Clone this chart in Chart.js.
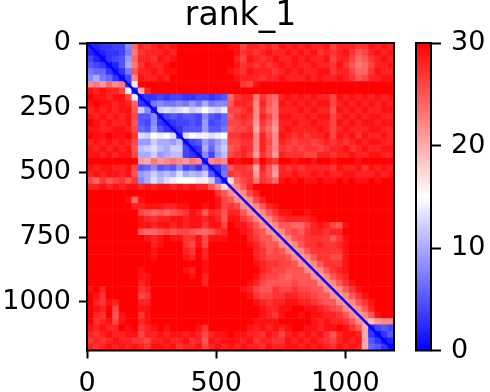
<!DOCTYPE html>
<html><head><meta charset="utf-8">
<script src="https://cdn.jsdelivr.net/npm/chart.js@4"></script>
<style>html,body{margin:0;padding:0;background:#fff}#w{position:relative;width:490px;height:392px;overflow:hidden}canvas{position:absolute;top:0}</style>
</head><body><div id="w"><canvas id="m" width="490" height="392" style="left:0"></canvas><canvas id="c" width="90" height="392" style="left:400px"></canvas></div>
<script>
const titleText = "rank_1";
const residueMax = 1188;
const xTickValues = [0,500,1000];
const yTickValues = [0,250,500,750,1000];
const barTickValues = [0,10,20,30];
const barRange = [0,30];
const diagonalEnds = [0,1188];
const paeRows = [
[2,2,3,3,4,4,8,24,28,27,28,29,28,29,30,30,30,30,30,30,30,30,29,29,26,28,28,27,28,27,29,28,29,28,29,28,28,29,26,28,28,28,27,27,29,28,29,28],
[2,1,2,3,3,4,7,23,27,28,28,28,29,28,30,30,30,30,30,30,30,30,30,29,27,28,27,28,29,28,28,29,28,29,28,29,27,28,27,28,29,27,25,26,28,29,28,29],
[4,2,1,3,4,5,9,24,28,28,27,29,28,29,30,30,30,30,30,30,30,30,30,28,26,29,28,27,28,29,28,28,29,28,29,28,28,29,26,28,28,26,24,25,27,28,29,28],
[5,4,3,1,2,5,10,23,27,29,28,28,29,30,30,30,30,30,30,30,30,30,30,29,27,28,27,28,27,28,29,28,29,28,28,29,28,28,27,29,27,25,23,24,26,28,28,29],
[7,6,6,3,1,3,7,25,28,28,29,28,29,29,30,30,30,30,30,30,30,30,29,28,27,29,28,28,28,27,28,29,28,29,28,28,29,29,27,28,28,26,24,24,27,29,28,28],
[8,10,7,6,3,1,4,22,29,28,28,29,28,30,30,30,30,30,30,30,30,30,30,29,28,28,28,27,28,28,29,28,28,28,29,28,29,28,28,29,28,27,25,26,28,28,29,29],
[22,23,21,24,22,23,3,14,30,30,30,30,30,30,30,30,30,30,30,30,30,30,30,30,27,26,29,30,30,30,30,30,30,30,30,30,30,30,30,30,30,30,30,30,30,30,30,30],
[29,28,29,28,28,26,14,2,20,28,30,30,30,30,30,30,30,30,30,30,30,30,30,30,30,30,30,30,30,30,30,30,30,30,30,30,30,30,30,30,30,30,30,30,30,30,30,30],
[30,29,29,28,29,29,26,14,2,3,3,4,3,4,4,3,3,4,4,3,4,5,24,27,28,28,23,27,25,24,28,29,28,29,28,29,28,28,26,29,28,29,28,29,28,29,28,29],
[29,30,29,29,28,29,28,24,3,2,7,8,7,7,8,7,9,7,10,7,8,8,25,28,28,27,22,28,25,23,29,28,29,28,29,28,29,29,26,28,29,28,29,28,29,28,29,28],
[28,29,28,29,28,29,29,25,12,8,2,12,13,12,13,14,12,13,15,13,12,14,26,26,27,28,22,27,24,23,28,28,28,29,28,29,28,28,25,29,28,29,28,29,28,28,29,29],
[29,28,29,28,29,28,29,26,5,5,8,2,4,5,4,5,5,4,8,5,4,6,25,27,28,27,22,28,26,23,29,29,28,28,29,28,29,29,26,28,29,28,29,28,29,29,28,28],
[30,29,28,29,28,28,29,25,5,4,8,3,2,3,4,4,5,4,9,4,5,6,26,26,27,26,21,27,25,22,28,28,29,28,28,29,28,28,26,29,28,29,28,29,29,28,29,29],
[29,29,28,28,29,29,28,26,6,5,9,5,3,2,3,5,5,5,9,5,5,7,25,26,26,27,20,26,24,21,28,29,28,28,28,28,29,28,26,28,29,28,28,28,29,29,28,28],
[30,29,29,30,29,29,30,27,13,12,15,14,15,13,2,13,15,14,16,13,14,15,27,27,28,28,22,28,25,22,29,28,27,28,27,28,28,29,26,29,28,29,27,29,28,28,29,28],
[28,29,28,29,28,29,28,26,9,9,12,10,10,9,11,2,4,5,9,7,9,11,26,26,27,27,22,28,26,22,28,27,26,27,27,26,27,28,27,28,27,28,29,28,29,29,28,28],
[29,28,29,28,29,28,29,25,11,12,13,11,10,12,12,4,2,3,10,6,10,12,25,26,28,27,22,28,25,22,27,26,27,26,27,27,26,27,28,28,29,27,28,29,28,28,29,29],
[29,29,28,29,28,29,29,26,10,10,12,9,10,11,11,4,3,2,8,4,9,11,26,27,28,26,21,27,25,21,28,27,27,27,26,26,28,28,27,28,28,29,28,28,29,29,28,28],
[30,30,30,30,30,30,30,30,21,20,23,21,22,23,22,21,23,22,2,22,23,22,30,29,30,30,26,30,28,27,30,30,29,30,30,29,30,30,29,30,30,30,29,30,30,30,30,30],
[29,28,29,29,28,28,29,26,5,6,8,5,6,5,8,4,5,3,7,2,3,6,25,27,27,26,20,28,25,22,28,27,28,27,28,28,28,28,27,29,28,28,29,27,29,28,29,28],
[28,29,28,29,29,28,29,25,9,10,12,10,11,10,13,10,11,10,12,5,2,7,27,26,27,27,21,27,25,21,28,28,29,28,28,29,28,29,28,28,29,29,28,28,28,29,28,29],
[26,24,27,25,26,27,25,27,8,10,13,11,13,14,15,15,15,14,16,12,6,2,17,24,26,27,23,27,26,24,29,30,29,30,29,29,30,29,29,30,29,30,29,29,30,29,30,30],
[28,28,29,28,29,28,29,29,28,29,28,29,29,28,29,28,29,28,28,25,22,17,21,22,25,28,30,30,30,30,30,30,30,30,30,30,30,30,30,30,30,30,30,30,30,30,30,30],
[30,30,30,30,30,30,30,30,30,30,30,30,30,30,30,30,30,30,30,30,27,25,22,21,22,26,28,30,30,30,30,30,30,30,30,30,30,30,30,30,30,30,30,30,30,30,30,30],
[30,30,30,30,30,30,29,24,29,30,30,30,30,30,30,30,30,30,30,30,29,26,25,22,21,22,26,28,30,30,30,30,30,30,30,30,30,30,30,30,30,30,30,30,30,30,30,30],
[30,30,30,30,30,30,30,28,28,29,29,29,28,28,29,29,30,30,29,30,29,26,27,26,22,21,22,25,28,29,30,30,30,30,30,30,30,30,30,30,30,30,30,30,30,30,30,30],
[30,30,30,30,30,30,30,30,26,25,24,25,24,25,26,27,29,28,25,28,27,25,28,28,25,22,21,22,25,27,29,29,30,30,29,30,30,30,30,30,30,30,30,30,30,30,30,30],
[30,30,30,30,30,30,30,30,29,28,27,28,28,29,29,28,29,29,28,29,28,25,29,29,27,25,22,21,22,25,27,28,28,28,28,29,30,30,30,30,30,30,30,30,30,30,30,30],
[30,30,30,30,30,30,30,30,29,29,28,29,29,28,29,28,29,29,27,29,29,26,30,29,29,27,25,22,21,22,25,25,24,24,26,28,29,28,26,25,29,30,30,30,30,30,30,30],
[30,30,30,30,30,30,30,30,25,24,24,25,26,25,26,26,25,24,24,25,27,28,30,30,29,28,26,25,22,21,22,25,26,25,27,28,28,27,28,28,30,30,30,30,30,30,30,30],
[30,30,30,30,30,30,30,30,30,29,28,29,30,29,29,27,27,29,26,29,29,29,30,30,30,28,27,25,25,22,21,22,25,26,27,27,27,27,25,27,29,30,30,30,30,30,30,30],
[30,30,30,30,30,30,30,30,30,30,28,29,30,30,30,27,26,29,26,30,30,30,30,30,30,29,28,26,25,25,22,21,22,25,27,27,28,27,27,28,29,30,30,30,30,30,30,30],
[30,30,30,30,30,30,30,30,30,30,29,30,30,30,30,28,27,30,28,30,30,30,30,30,30,30,28,27,25,26,25,22,21,22,25,27,27,27,27,27,29,30,30,30,30,30,30,30],
[30,30,30,30,30,30,30,30,30,30,29,30,30,30,30,29,28,30,28,30,30,30,30,30,30,30,28,27,26,26,26,25,22,21,22,25,27,27,26,26,29,30,30,30,30,30,30,30],
[30,30,30,30,30,30,30,30,30,30,30,30,30,30,30,30,30,30,29,30,30,30,30,30,30,30,29,28,27,27,26,26,25,22,21,22,25,27,27,27,29,30,30,30,30,30,30,30],
[30,30,30,30,30,30,30,30,29,30,30,30,30,30,30,29,28,30,29,30,30,30,30,30,30,30,30,28,27,26,26,25,25,25,22,21,22,25,27,28,29,30,30,30,30,30,30,30],
[30,30,30,30,30,30,30,30,29,29,30,30,30,30,30,30,29,30,28,30,30,30,30,30,30,30,29,27,26,26,25,24,25,25,25,22,21,22,25,27,28,30,30,30,30,30,30,30],
[30,30,30,30,30,30,30,30,28,29,30,30,30,30,30,30,30,30,28,30,30,30,30,30,30,29,28,26,25,25,25,25,26,25,25,25,22,21,22,25,27,29,30,30,30,30,30,30],
[29,30,28,30,30,30,30,30,27,28,30,30,30,30,30,30,30,30,30,30,30,30,30,30,29,28,26,25,25,27,26,26,27,26,26,25,25,22,21,22,25,27,29,30,30,30,30,30],
[30,29,27,30,30,30,30,30,26,27,30,30,30,30,30,30,30,30,30,30,30,30,30,30,30,29,27,26,26,27,27,28,28,27,27,26,25,25,22,21,22,25,27,29,30,30,30,30],
[30,28,27,29,28,30,30,30,28,28,30,30,30,30,30,30,30,30,30,30,30,30,30,30,30,30,29,28,27,28,28,29,29,28,28,27,26,25,25,22,21,22,25,27,29,30,30,30],
[30,29,28,30,26,30,30,30,29,29,30,30,30,30,30,30,30,30,30,30,30,30,30,30,30,30,30,29,28,28,29,29,30,30,29,29,28,27,26,25,22,21,22,25,28,30,30,30],
[30,28,27,30,25,29,30,30,27,29,30,30,30,30,30,30,30,30,30,30,30,30,30,30,30,30,30,29,28,27,29,30,30,29,30,29,29,28,28,27,25,22,21,22,25,29,30,30],
[30,27,28,29,26,29,30,30,28,29,30,30,30,30,30,30,30,30,30,30,30,30,30,30,30,30,29,29,29,29,30,30,30,30,30,29,28,29,28,28,27,25,22,21,19,21,22,22],
[29,28,29,28,28,30,29,30,27,28,29,30,29,30,30,30,30,29,27,30,30,30,30,30,30,29,28,29,28,29,28,29,30,30,29,29,28,29,29,30,29,27,25,20,2,4,5,4],
[28,27,28,29,28,28,29,29,26,28,28,29,28,29,29,28,29,28,26,28,29,29,30,29,29,28,28,27,29,28,26,28,29,28,29,28,29,27,25,28,29,29,28,20,3,1,3,5],
[27,28,27,28,29,28,28,27,27,26,28,28,29,28,28,29,27,28,25,29,28,29,29,29,28,29,27,28,28,27,27,29,28,29,28,29,28,27,26,28,29,28,29,20,5,3,1,2],
[28,27,28,29,28,29,28,29,28,27,29,29,28,29,27,28,28,29,26,28,29,28,29,28,29,28,28,27,29,28,28,29,29,28,29,28,29,28,27,29,28,29,28,20,6,5,3,1]
];

function bwr(v){
  const t = Math.max(0,Math.min(1,v/30));
  const r = t<0.5 ? Math.round(510*t) : 255;
  const b = t<0.5 ? 255 : Math.round(510*(1-t));
  const g = t<0.5 ? r : b;
  return `rgb(${r},${g},${b})`;
}
const FONT = "'DejaVu Sans'";
const cell = residueMax/paeRows.length;
const pts = [], cols = [];
paeRows.forEach((row,i)=>row.forEach((v,j)=>{
  pts.push({x:(j+.5)*cell,y:(i+.5)*cell,v}); cols.push(bwr(v));
}));
const frame = {id:'frame',afterDraw(ch){
  const a=ch.chartArea,c=ch.ctx;c.save();c.strokeStyle='#000';c.lineWidth=2;
  c.strokeRect(a.left,a.top,a.right-a.left,a.bottom-a.top);c.restore();}};
const tickStyle = (vals)=>({
  afterBuildTicks(s){s.ticks=vals.map(v=>({value:v}));},
});
const plain = v=>String(v);
new Chart(document.getElementById('m'),{
  type:'scatter',
  data:{datasets:[
    {type:'line',data:diagonalEnds.map(d=>({x:d,y:d})),borderColor:'#0000ff',borderWidth:2.5,pointRadius:0,fill:false},
    {data:pts,pointStyle:'rect',pointRadius:4.9,pointBorderWidth:0,pointBackgroundColor:cols,pointBorderColor:'transparent'}
  ]},
  options:{
    responsive:false,animation:false,events:[],
    layout:{padding:{left:0,right:96,top:0,bottom:0}},
    plugins:{legend:{display:false},tooltip:{enabled:false},
      title:{display:true,text:titleText,color:'#000',fullSize:false,font:{family:FONT,size:33,weight:'normal',lineHeight:1.0},padding:{top:0,bottom:10}}},
    scales:{
      x:{type:'linear',min:0,max:residueMax,position:'bottom',...tickStyle(xTickValues),
        afterFit(s){s.height=41.5;},
        border:{display:false},
        grid:{drawOnChartArea:false,drawTicks:true,tickLength:8,tickWidth:2,tickColor:'#000'},
        ticks:{color:'#000',font:{family:FONT,size:27},padding:9,maxRotation:0,autoSkip:false,callback:plain}},
      y:{type:'linear',min:0,max:residueMax,reverse:true,...tickStyle(yTickValues),
        afterFit(s){s.width=87;},
        border:{display:false},
        grid:{drawOnChartArea:false,drawTicks:true,tickLength:8,tickWidth:2,tickColor:'#000'},
        ticks:{color:'#000',font:{family:FONT,size:27},padding:8,autoSkip:false,callback:plain}}
    }
  },
  plugins:[frame]
});
new Chart(document.getElementById('c'),{
  type:'bar',
  data:{labels:['pae'],datasets:[{data:[barRange],barPercentage:1,categoryPercentage:1,
    backgroundColor(ctx){
      const a=ctx.chart.chartArea; if(!a) return '#fff';
      const g=ctx.chart.ctx.createLinearGradient(0,a.bottom,0,a.top);
      g.addColorStop(0,bwr(0));g.addColorStop(.5,bwr(15));g.addColorStop(1,bwr(30));return g;
    }}]},
  options:{
    responsive:false,animation:false,events:[],
    layout:{padding:{left:16,right:0,top:43,bottom:41.5}},
    plugins:{legend:{display:false},tooltip:{enabled:false}},
    scales:{
      x:{display:false},
      y:{type:'linear',position:'right',min:0,max:30,...tickStyle(barTickValues),
        afterFit(s){s.width=59;},
        border:{display:false},
        grid:{drawOnChartArea:false,drawTicks:true,tickLength:10,tickWidth:2,tickColor:'#000'},
        ticks:{color:'#000',font:{family:FONT,size:27},padding:10,autoSkip:false,callback:plain}}
    }
  },
  plugins:[frame]
});
</script></body></html>
